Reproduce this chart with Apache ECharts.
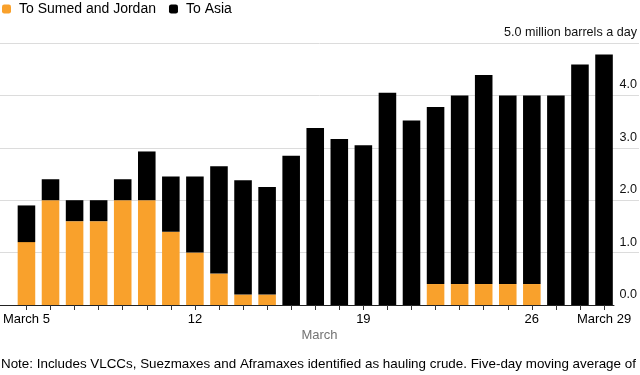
<!DOCTYPE html>
<html>
<head>
<meta charset="utf-8">
<script src="https://cdn.jsdelivr.net/npm/echarts@6/dist/echarts.min.js"></script>
<style>
html,body{margin:0;padding:0;background:#fff;}
#chart{width:640px;height:375px;}
</style>
</head>
<body>
<div id="chart"></div>
<script>
var days = ['5','6','7','8','9','10','11','12','13','14','15','16','17','18','19','20','21','22','23','24','25','26','27','28','29'];
var tickLabels = ['March 5','','','','','','','12','','','','','','','19','','','','','','','26','','','March 29'];
var sumedJordan = [1.2, 2.0, 1.6, 1.6, 2.0, 2.0, 1.4, 1.0, 0.6, 0.2, 0.2, 0, 0, 0, 0, 0, 0, 0.4, 0.4, 0.4, 0.4, 0.4, 0, 0, 0];
var asia = [0.7, 0.4, 0.4, 0.4, 0.4, 0.93, 1.05, 1.45, 2.05, 2.18, 2.05, 2.85, 3.38, 3.17, 3.05, 4.05, 3.52, 3.38, 3.6, 3.99, 3.6, 3.6, 4.0, 4.59, 4.78];
var yTicks = [0, 1, 2, 3, 4, 5];
var unitLabel = 'million barrels a day';
var seriesNames = ['To Sumed and Jordan', 'To Asia'];
var axisName = 'March';
var note = 'Note: Includes VLCCs, Suezmaxes and Aframaxes identified as hauling crude. Five-day moving average of';

var FONT = '"Liberation Sans", Arial, sans-serif';
var chart = echarts.init(document.getElementById('chart'), null, {renderer: 'canvas'});
var yMin = yTicks[0], yMax = yTicks[yTicks.length - 1];

chart.setOption({
  animation: false,
  textStyle: {fontFamily: FONT},
  legend: {
    left: 2, top: 2, padding: 0,
    itemWidth: 9, itemHeight: 9, itemGap: 13,
    icon: 'roundRect',
    textStyle: {fontFamily: FONT, fontSize: 14, color: '#000', padding: [0, 0, 0, 3]},
    data: seriesNames
  },
  grid: [
    {left: 12.94, right: 23.94, top: 43, bottom: 70},
    {left: 0, right: 0, top: 43, bottom: 70},
    {left: 0, right: 26, top: 43, bottom: 70}
  ],
  xAxis: [
    {
      type: 'category', gridIndex: 0, data: days,
      axisLine: {show: false},
      axisTick: {show: true, alignWithLabel: true, interval: 0, length: 5, lineStyle: {color: '#333'}},
      axisLabel: {interval: 0, margin: 8, fontSize: 13, color: '#000', fontFamily: FONT,
        formatter: function (v, i) { return tickLabels[i]; }}
    },
    {
      type: 'value', gridIndex: 1, min: 0, max: 1,
      axisLine: {show: false}, axisTick: {show: false}, axisLabel: {show: false}, splitLine: {show: false},
      name: axisName, nameLocation: 'middle', nameGap: 24,
      nameTextStyle: {fontSize: 13, color: '#737373', fontFamily: FONT}
    },
    {
      type: 'value', gridIndex: 2, min: 0, max: 1,
      axisLine: {show: true, lineStyle: {color: '#222', width: 1}},
      axisTick: {show: false}, axisLabel: {show: false}, splitLine: {show: false}
    }
  ],
  yAxis: [
    {type: 'value', gridIndex: 0, min: yMin, max: yMax, interval: 1, show: false},
    {
      type: 'value', gridIndex: 1, min: yMin, max: yMax, interval: 1, position: 'right',
      axisLine: {show: false}, axisTick: {show: false},
      splitLine: {show: true, lineStyle: {color: ['rgba(0,0,0,0)', '#dcdcdc', '#dcdcdc', '#dcdcdc', '#dcdcdc', '#dcdcdc'], width: 1}},
      axisLabel: {
        inside: true, margin: 2, align: 'right', verticalAlign: 'bottom',
        padding: [0, 0, 4, 0], fontSize: 12.6, color: '#111', fontFamily: FONT,
        formatter: function (v) {
          return v === yMax ? v.toFixed(1) + ' ' + unitLabel : v.toFixed(1);
        }
      }
    },
    {type: 'value', gridIndex: 2, min: yMin, max: yMax, show: false}
  ],
  series: [
    {
      name: seriesNames[0], type: 'bar', stack: 'total', xAxisIndex: 0, yAxisIndex: 0,
      data: sumedJordan, barWidth: '73%', itemStyle: {color: '#f9a12c'}
    },
    {
      name: seriesNames[1], type: 'bar', stack: 'total', xAxisIndex: 0, yAxisIndex: 0,
      data: asia, barWidth: '73%', itemStyle: {color: '#000000'}
    }
  ],
  graphic: [
    {type: 'text', left: 1, top: 358, style: {text: note, font: '13.4px ' + FONT, fill: '#000'}}
  ]
});
</script>
</body>
</html>
